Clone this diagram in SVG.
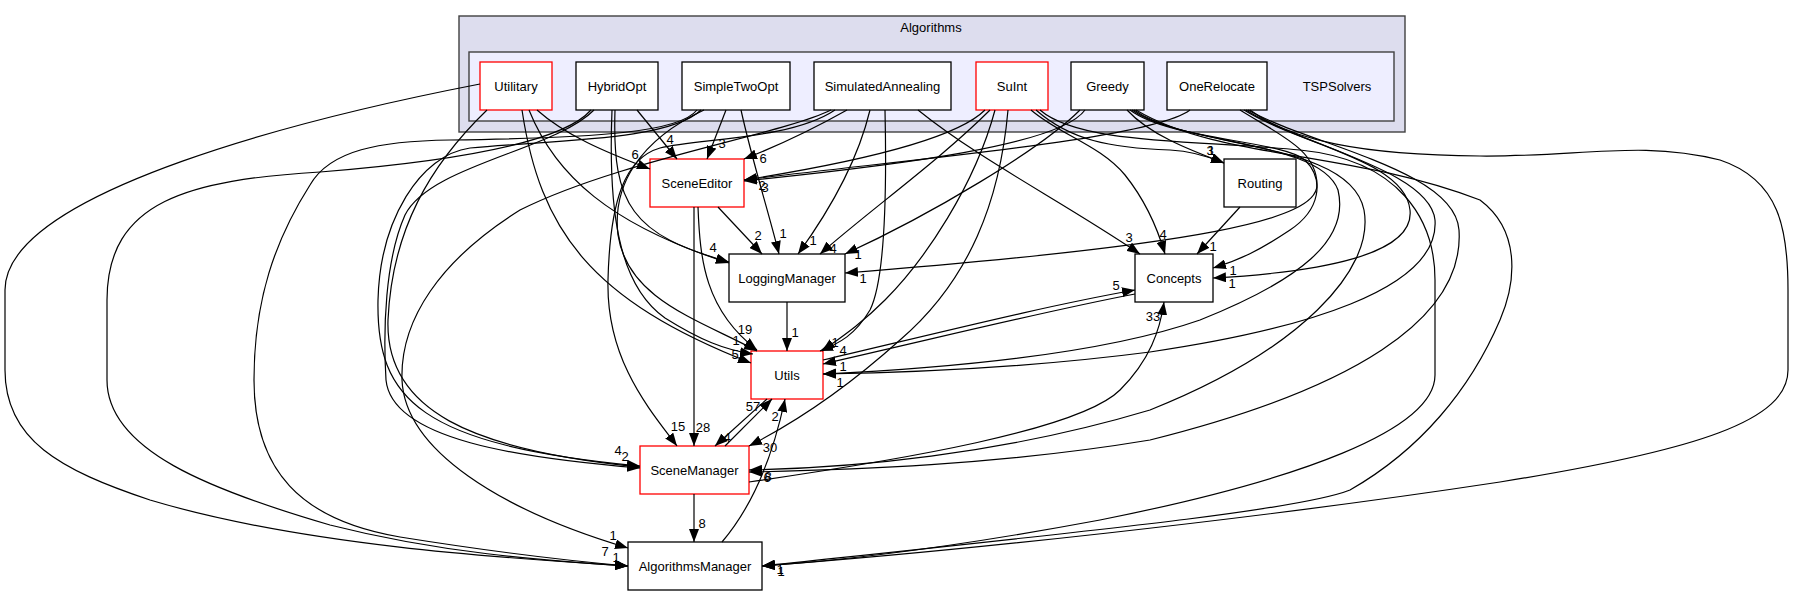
<svg xmlns="http://www.w3.org/2000/svg" width="1795" height="596" viewBox="0 0 1795 596">
<style>
text{font-family:"Liberation Sans",Arial,Helvetica,sans-serif;font-size:13px;fill:#000;text-anchor:middle}
.n rect{fill:#fff;stroke:#000;stroke-width:1.3}
.n.r rect{stroke:#ff0000}
.e path{fill:none;stroke:#000;stroke-width:1.2;marker-end:url(#ah)}
.l text{font-size:13px}
</style>
<defs>
<marker id="ah" markerWidth="13" markerHeight="10" refX="13" refY="5" orient="auto" markerUnits="userSpaceOnUse">
<path d="M0,0 L13,5 L0,10 z" fill="#000"/>
</marker>
</defs>
<rect width="1795" height="596" fill="#fff"/>
<g id="cluster-Algorithms">
<rect x="459" y="16" width="946" height="116" fill="#ddddee" stroke="#404040" stroke-width="1.4"/>
<text x="931" y="32">Algorithms</text>
</g>
<g id="cluster-TSPSolvers">
<rect x="469" y="52" width="925" height="69" fill="#eeeeff" stroke="#404040" stroke-width="1.4"/>
<text x="1337" y="91">TSPSolvers</text>
</g>
<g id="node-Utilitary" class="n r"><rect x="480" y="62" width="72" height="48"/><text x="516" y="91">Utilitary</text></g>
<g id="node-HybridOpt" class="n"><rect x="576" y="62" width="82" height="48"/><text x="617" y="91">HybridOpt</text></g>
<g id="node-SimpleTwoOpt" class="n"><rect x="682" y="62" width="108" height="48"/><text x="736" y="91">SimpleTwoOpt</text></g>
<g id="node-SimulatedAnnealing" class="n"><rect x="814" y="62" width="137" height="48"/><text x="882.5" y="91">SimulatedAnnealing</text></g>
<g id="node-SuInt" class="n r"><rect x="976" y="62" width="72" height="48"/><text x="1012" y="91">SuInt</text></g>
<g id="node-Greedy" class="n"><rect x="1071" y="62" width="73" height="48"/><text x="1107.5" y="91">Greedy</text></g>
<g id="node-OneRelocate" class="n"><rect x="1167" y="62" width="100" height="48"/><text x="1217" y="91">OneRelocate</text></g>
<g id="node-SceneEditor" class="n r"><rect x="650" y="159" width="94" height="48"/><text x="697" y="188">SceneEditor</text></g>
<g id="node-Routing" class="n"><rect x="1224" y="159" width="72" height="48"/><text x="1260" y="188">Routing</text></g>
<g id="node-LoggingManager" class="n"><rect x="729" y="254" width="116" height="48"/><text x="787" y="283">LoggingManager</text></g>
<g id="node-Concepts" class="n"><rect x="1135" y="254" width="78" height="48"/><text x="1174" y="283">Concepts</text></g>
<g id="node-Utils" class="n r"><rect x="751" y="351" width="72" height="48"/><text x="787" y="380">Utils</text></g>
<g id="node-SceneManager" class="n r"><rect x="640" y="446" width="109" height="48"/><text x="694.5" y="475">SceneManager</text></g>
<g id="node-AlgorithmsManager" class="n"><rect x="628" y="542" width="134" height="48"/><text x="695" y="571">AlgorithmsManager</text></g>
<g id="edges" class="e">
<path d="M480,84 C320,115 5,190 5,290 L5,370 C5,440 60,470 150,500 C300,545 500,558 628,566"/>
<path d="M537,110 C565,135 605,152 650,169"/>
<path d="M529,110 C555,175 610,225 729,263"/>
<path d="M522,110 C540,230 590,300 751,363"/>
<path d="M487,110 C430,165 392,230 388,320 C385,410 470,450 640,467"/>
<path d="M637,110 L677,159"/>
<path d="M591,110 C565,140 470,160 320,172 C190,180 107,200 107,300 L107,380 C107,450 210,490 330,525 C440,553 540,560 628,566"/>
<path d="M594,110 C555,150 430,165 405,215 C385,260 383,330 386,380 C392,440 520,458 640,468"/>
<path d="M612,110 C608,210 618,285 665,318 C700,340 725,350 753,354"/>
<path d="M615,110 C612,205 632,235 729,262"/>
<path d="M726,110 L707,159"/>
<path d="M741,110 C752,160 768,210 779,254"/>
<path d="M697,110 C680,132 600,138 450,140 C380,141 330,150 310,185 C275,240 254,300 254,380 C254,470 300,520 400,537 C500,553 560,560 628,566"/>
<path d="M701,110 C670,140 560,140 470,148 C420,155 380,220 378,300 C376,400 420,445 640,466"/>
<path d="M704,110 C640,140 612,185 618,235 C628,300 700,320 757,351"/>
<path d="M847,110 C815,128 780,145 744,159"/>
<path d="M870,110 C858,160 830,210 798,254"/>
<path d="M885,110 C887,200 885,280 870,310 C855,335 840,343 820,351"/>
<path d="M918,110 C980,160 1060,200 1140,254"/>
<path d="M835,110 C790,140 700,138 660,148 C625,158 610,200 608,280 C606,360 650,410 677,446"/>
<path d="M831,110 C780,135 620,160 520,210 C440,260 400,320 402,380 C405,450 500,510 628,548"/>
<path d="M985,110 C950,145 820,168 744,180"/>
<path d="M990,110 C940,160 870,210 820,254"/>
<path d="M995,110 C975,185 925,260 885,300 C860,325 840,338 822,351"/>
<path d="M1008,110 C1000,200 970,280 900,340 C850,385 800,420 749,446"/>
<path d="M1031,110 C1060,135 1100,145 1125,175 C1145,200 1158,230 1165,254"/>
<path d="M1036,110 C1070,140 1110,148 1170,150 C1190,151 1205,155 1224,163"/>
<path d="M1040,110 C1080,145 1200,140 1300,150 C1400,160 1435,220 1435,280 L1435,375 C1435,430 1300,480 1100,520 C950,548 850,560 762,566"/>
<path d="M1085,110 C1060,145 900,165 744,181"/>
<path d="M1080,110 C1040,150 930,215 845,254"/>
<path d="M1127,110 C1150,135 1190,150 1224,163"/>
<path d="M1130,110 C1170,140 1280,140 1305,160 C1325,180 1320,210 1290,230 C1260,250 1240,260 1213,268"/>
<path d="M1132,110 C1180,145 1320,140 1338,190 C1350,240 1300,280 1200,320 C1100,355 950,368 823,374"/>
<path d="M1134,110 C1190,150 1350,140 1364,210 C1375,270 1300,350 1150,410 C1000,455 850,468 749,470"/>
<path d="M1136,110 C1220,160 1350,150 1480,200 C1520,230 1517,280 1500,320 C1470,390 1420,450 1350,490 C1300,510 1100,530 762,566"/>
<path d="M1190,110 C1150,140 900,160 744,180"/>
<path d="M1240,110 C1280,135 1317,150 1317,185 C1317,220 1200,245 845,273"/>
<path d="M1244,110 C1300,145 1405,160 1410,210 C1415,255 1320,272 1213,278"/>
<path d="M1246,110 C1300,145 1430,170 1435,220 C1440,290 1300,330 1150,352 C1050,365 950,372 823,374"/>
<path d="M1248,110 C1310,145 1455,170 1459,230 C1465,320 1350,390 1150,440 C1000,465 850,470 749,472"/>
<path d="M1250,110 C1290,140 1360,155 1480,156 C1580,157 1640,140 1720,160 C1780,180 1788,230 1788,290 L1788,370 C1788,420 1700,450 1500,482 C1250,520 950,552 762,566"/>
<path d="M718,207 L762,254"/>
<path d="M698,207 C700,260 705,310 757,350"/>
<path d="M694,207 L694,446"/>
<path d="M787,302 L787,351"/>
<path d="M1240,207 L1197,254"/>
<path d="M823,360 C950,330 1050,305 1135,290"/>
<path d="M1135,294 C1050,310 950,335 823,364"/>
<path d="M767,399 L715,446"/>
<path d="M725,446 L772,399"/>
<path d="M722,542 C745,515 770,470 785,399"/>
<path d="M694,494 L694,542"/>
<path d="M749,482 C900,460 1080,430 1120,390 C1150,360 1160,330 1164,302"/>
</g>
<g id="edge-labels" class="l">
<text x="605" y="556">7</text>
<text x="616" y="562">1</text>
<text x="613" y="540">1</text>
<text x="635" y="159">6</text>
<text x="713" y="252">4</text>
<text x="735" y="359">5</text>
<text x="736" y="345">1</text>
<text x="618" y="455">4</text>
<text x="625" y="461">2</text>
<text x="670" y="144">4</text>
<text x="722" y="148">3</text>
<text x="783" y="238">1</text>
<text x="745" y="334">19</text>
<text x="763" y="163">6</text>
<text x="813" y="245">1</text>
<text x="835" y="347">1</text>
<text x="1129" y="242">3</text>
<text x="678" y="431">15</text>
<text x="762" y="190">2</text>
<text x="765" y="192">3</text>
<text x="833" y="253">4</text>
<text x="843" y="355">4</text>
<text x="770" y="452">30</text>
<text x="1163" y="239">4</text>
<text x="1210" y="155">3</text>
<text x="1211" y="155">1</text>
<text x="858" y="259">1</text>
<text x="1233" y="275">1</text>
<text x="1232" y="288">1</text>
<text x="843" y="371">1</text>
<text x="840" y="387">1</text>
<text x="767" y="482">6</text>
<text x="768" y="481">8</text>
<text x="780" y="574">1</text>
<text x="781" y="576">1</text>
<text x="863" y="283">1</text>
<text x="758" y="240">2</text>
<text x="703" y="432">28</text>
<text x="795" y="337">1</text>
<text x="1213" y="251">1</text>
<text x="1116" y="290">5</text>
<text x="727" y="442">4</text>
<text x="753" y="411">57</text>
<text x="775" y="421">2</text>
<text x="702" y="528">8</text>
<text x="1153" y="321">33</text>
</g>
</svg>
